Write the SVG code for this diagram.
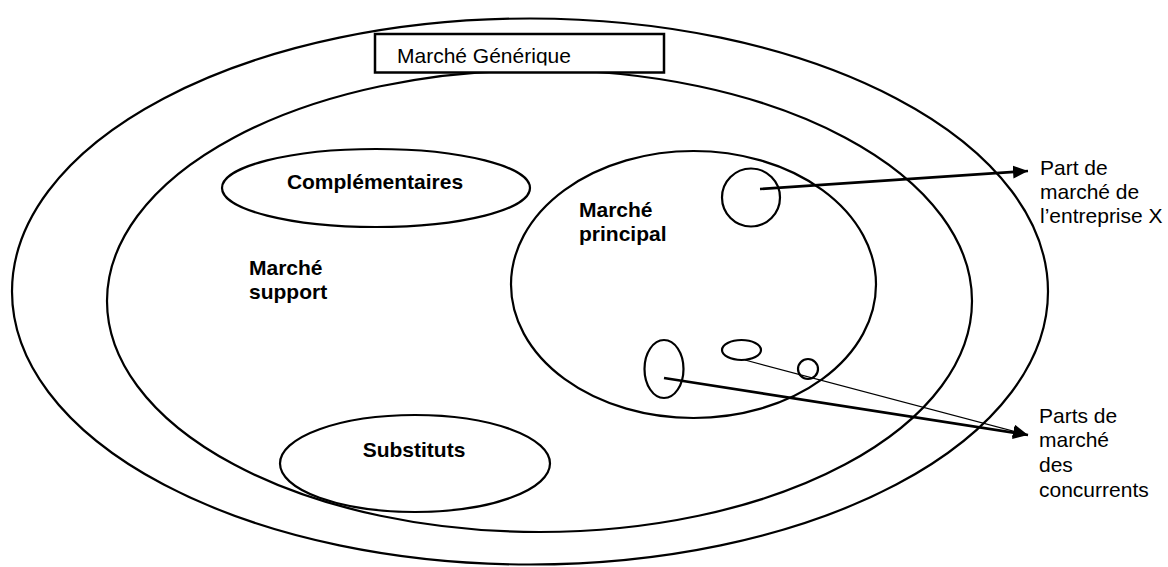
<svg xmlns="http://www.w3.org/2000/svg" width="1168" height="567" viewBox="0 0 1168 567">
  <style>
    .shape { fill: none; stroke: #000; stroke-width: 2.2; }
    .lbl { font-family: "Liberation Sans", Arial, sans-serif; font-size: 21px; fill: #000; }
    .bold { font-weight: bold; }
    .thick { stroke: #000; stroke-width: 2.6; fill: none; }
    .thin { stroke: #000; stroke-width: 1.2; fill: none; }
  </style>
  <defs>
    <marker id="arrow" markerUnits="userSpaceOnUse" markerWidth="16" markerHeight="14" refX="15" refY="6.5" orient="auto">
      <path d="M0,0 L15,6.5 L0,13 Z" fill="#000"/>
    </marker>
    <clipPath id="boxclip">
      <rect x="376" y="35" width="287" height="30.5"/>
    </clipPath>
  </defs>
  <rect x="0" y="0" width="1168" height="567" fill="#fff"/>

  <g id="marche-generique">
    <ellipse class="shape" cx="530" cy="291.5" rx="518" ry="273"/>
  </g>
  <g id="marche-support">
    <ellipse class="shape" cx="539.5" cy="301" rx="432.5" ry="231"/>
    <text class="lbl bold" x="249" y="275">Marché</text>
    <text class="lbl bold" x="249" y="299">support</text>
  </g>
  <g id="titre-generique">
    <rect x="375" y="34" width="289" height="38.5" fill="#fff" stroke="#000" stroke-width="2.5"/>
    <text class="lbl" x="397" y="63" clip-path="url(#boxclip)">Marché Générique</text>
  </g>
  <g id="complementaires">
    <ellipse class="shape" cx="376" cy="188" rx="154" ry="39"/>
    <text class="lbl bold" x="375" y="189" text-anchor="middle">Complémentaires</text>
  </g>
  <g id="substituts">
    <ellipse class="shape" cx="415" cy="463.5" rx="135" ry="48.5"/>
    <text class="lbl bold" x="414" y="457" text-anchor="middle">Substituts</text>
  </g>
  <g id="marche-principal">
    <ellipse class="shape" cx="693.5" cy="284.5" rx="182.5" ry="133.5"/>
    <text class="lbl bold" x="579" y="217">Marché</text>
    <text class="lbl bold" x="579" y="241">principal</text>
  </g>
  <g id="part-entreprise-x">
    <circle class="shape" cx="751" cy="197.5" r="29"/>
  </g>
  <g id="concurrent-1">
    <ellipse class="shape" cx="664" cy="369" rx="19.5" ry="29"/>
  </g>
  <g id="concurrent-2">
    <ellipse class="shape" cx="741.5" cy="350" rx="19.5" ry="10"/>
  </g>
  <g id="concurrent-3">
    <circle class="shape" cx="808" cy="369" r="10"/>
  </g>
  <g id="label-entreprise">
    <text class="lbl" x="1040" y="175">Part de</text>
    <text class="lbl" x="1040" y="199">marché de</text>
    <text class="lbl" x="1040" y="223">l’entreprise X</text>
  </g>
  <g id="label-concurrents">
    <text class="lbl" x="1039" y="423">Parts de</text>
    <text class="lbl" x="1039" y="447">marché</text>
    <text class="lbl" x="1039" y="472">des</text>
    <text class="lbl" x="1039" y="497">concurrents</text>
  </g>

  <g id="connectors">
    <line class="thick" x1="760" y1="189" x2="1028" y2="171" marker-end="url(#arrow)"/>
    <line class="thick" x1="664" y1="378" x2="1028" y2="435" marker-end="url(#arrow)"/>
    <line class="thin" x1="745" y1="360" x2="1028" y2="435" marker-end="url(#arrow)"/>
  </g>
</svg>
